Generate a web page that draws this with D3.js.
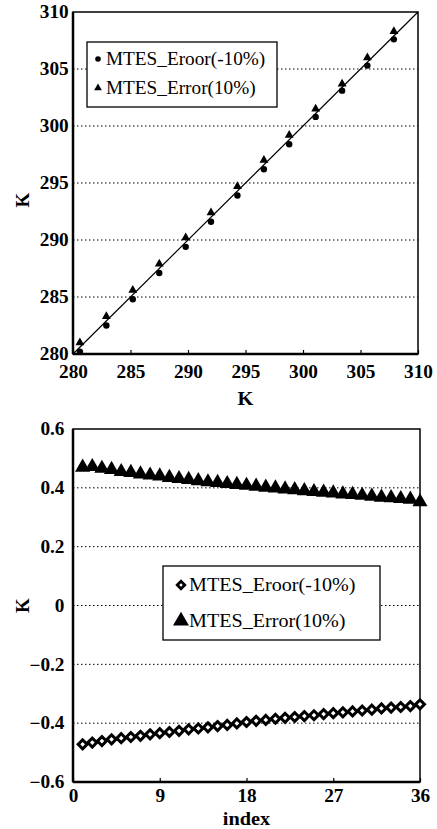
<!DOCTYPE html>
<html>
<head>
<meta charset="utf-8">
<script src="https://cdn.jsdelivr.net/npm/d3@7"></script>
<style>
  body { margin: 0; background: #fff; }
  .grid line { stroke: #000; stroke-width: 1; stroke-dasharray: 1.5,2.5; }
</style>
</head>
<body>
<div id="chart"></div>
<script>
// top panel: retrieved vs true temperature (K)
const topTrue = [280.6, 282.9, 285.2, 287.5, 289.8, 292.0, 294.3, 296.6, 298.8, 301.1, 303.4, 305.6, 307.9];
const topEroorMinus = [280.2, 282.5, 284.8, 287.1, 289.4, 291.6, 293.9, 296.2, 298.4, 300.8, 303.1, 305.3, 307.6];
const topErrorPlus = [281.0, 283.3, 285.6, 287.9, 290.2, 292.4, 294.7, 297.0, 299.2, 301.5, 303.7, 306.0, 308.3];
const topTicks = [280, 285, 290, 295, 300, 305, 310];

// bottom panel: error by index
const indexVals = d3.range(1, 37);
const errMinus10 = [-0.472, -0.466, -0.461, -0.455, -0.451, -0.447, -0.443, -0.438, -0.434, -0.430,
  -0.426, -0.421, -0.418, -0.414, -0.410, -0.406, -0.401, -0.396, -0.392, -0.389,
  -0.385, -0.382, -0.379, -0.376, -0.373, -0.369, -0.366, -0.363, -0.360, -0.357,
  -0.354, -0.350, -0.347, -0.345, -0.342, -0.336];
const errPlus10 = [0.470, 0.472, 0.466, 0.462, 0.455, 0.452, 0.447, 0.443, 0.440, 0.435,
  0.431, 0.428, 0.424, 0.420, 0.418, 0.414, 0.411, 0.408, 0.405, 0.402,
  0.399, 0.396, 0.393, 0.390, 0.387, 0.385, 0.382, 0.379, 0.377, 0.374,
  0.371, 0.368, 0.366, 0.363, 0.361, 0.352];
const bottomXTicks = [0, 9, 18, 27, 36];
const bottomYTicks = [-0.6, -0.4, -0.2, 0, 0.2, 0.4, 0.6];

const legendNames = ["MTES_Eroor(-10%)", "MTES_Error(10%)"];

const FONT = "'Liberation Serif', 'Times New Roman', serif";

const svg = d3.select("#chart").append("svg")
    .attr("width", 437)
    .attr("height", 829)
    .attr("font-family", FONT);

// the scanned figure's type is a little wider than normal Times
function styleTicks(a) {
    a.select(".domain").remove();
    a.attr("font-family", FONT);
    a.selectAll("text")
        .attr("font-family", FONT)
        .attr("font-size", 18)
        .attr("font-weight", "bold")
        .attr("fill", "#000")
        .attr("transform", "scale(1.07,1)");
    a.selectAll("line").attr("stroke", "#000").attr("stroke-width", 1.2);
}

// ---------- top panel ----------
let x1 = d3.scaleLinear().domain([280, 310]).range([73, 418]);
let y1 = d3.scaleLinear().domain([280, 310]).range([354, 12]);

let g1 = svg.append("g");

g1.append("g").attr("class", "grid")
    .selectAll("line")
    .data(topTicks.filter(d => d > 280 && d < 310))
    .enter().append("line")
    .attr("x1", x1(280)).attr("x2", x1(310))
    .attr("y1", d => y1(d)).attr("y2", d => y1(d));

// 1:1 line
g1.append("line")
    .attr("x1", x1(280)).attr("y1", y1(280))
    .attr("x2", x1(310)).attr("y2", y1(310))
    .attr("stroke", "#000").attr("stroke-width", 1.2);

g1.append("g")
    .attr("transform", "translate(0," + y1(280) + ")")
    .call(d3.axisBottom(x1).tickValues(topTicks).tickSize(-4).tickPadding(11).tickFormat(d3.format("d")))
    .call(styleTicks);

g1.append("g")
    .attr("transform", "translate(" + x1(280) + ",0)")
    .call(d3.axisLeft(y1).tickValues(topTicks).tickSize(0).tickPadding(4).tickFormat(d3.format("d")))
    .call(styleTicks);

// frame
g1.append("rect")
    .attr("x", x1(280)).attr("y", y1(310))
    .attr("width", x1(310) - x1(280)).attr("height", y1(280) - y1(310))
    .attr("fill", "none").attr("stroke", "#000").attr("stroke-width", 1.5);
g1.append("line").attr("x1", x1(280)).attr("x2", x1(280)).attr("y1", y1(310)).attr("y2", y1(280))
    .attr("stroke", "#000").attr("stroke-width", 2.5);
g1.append("line").attr("x1", x1(280)).attr("x2", x1(310)).attr("y1", y1(280)).attr("y2", y1(280))
    .attr("stroke", "#000").attr("stroke-width", 2.5);

g1.selectAll(".dot-m")
    .data(topTrue.map((d, i) => [d, topEroorMinus[i]]))
    .enter().append("circle")
    .attr("class", "dot-m")
    .attr("cx", d => x1(d[0])).attr("cy", d => y1(d[1]))
    .attr("r", 3.2).attr("fill", "#000");

g1.selectAll(".tri-p")
    .data(topTrue.map((d, i) => [d, topErrorPlus[i]]))
    .enter().append("path")
    .attr("class", "tri-p")
    .attr("transform", d => "translate(" + x1(d[0]) + "," + y1(d[1]) + ")")
    .attr("d", d3.symbol().type(d3.symbolTriangle).size(34))
    .attr("fill", "#000");

g1.append("text")
    .attr("transform", "translate(" + ((x1(280) + x1(310)) / 2) + ",405) scale(1.07,1)")
    .attr("text-anchor", "middle").attr("font-size", 19).attr("font-weight", "bold")
    .text("K");
g1.append("text")
    .attr("transform", "translate(29," + 200 + ") rotate(-90)")
    .attr("text-anchor", "middle").attr("font-size", 19).attr("font-weight", "bold")
    .text("K");

// top legend
let leg1 = g1.append("g");
leg1.append("rect")
    .attr("x", 87).attr("y", 42).attr("width", 190).attr("height", 65)
    .attr("fill", "#fff").attr("stroke", "#000").attr("stroke-width", 1.3);
leg1.append("circle").attr("cx", 98).attr("cy", 59).attr("r", 2.8).attr("fill", "#000");
leg1.append("path").attr("transform", "translate(98,88)")
    .attr("d", d3.symbol().type(d3.symbolTriangle).size(26)).attr("fill", "#000");
leg1.selectAll(".leg-text")
    .data(legendNames)
    .enter().append("text")
    .attr("class", "leg-text")
    .attr("transform", (d, i) => "translate(106," + (65 + i * 29) + ") scale(1.07,1)")
    .attr("font-size", 18)
    .text(d => d);

// ---------- bottom panel ----------
let x2 = d3.scaleLinear().domain([0, 36]).range([73, 420]);
let y2 = d3.scaleLinear().domain([-0.6, 0.6]).range([782, 429]);

let g2 = svg.append("g");

g2.append("g").attr("class", "grid")
    .selectAll("line")
    .data(bottomYTicks.filter(d => d > -0.6 && d < 0.6))
    .enter().append("line")
    .attr("x1", x2(0)).attr("x2", x2(36))
    .attr("y1", d => y2(d)).attr("y2", d => y2(d));

g2.append("g")
    .attr("transform", "translate(0," + y2(-0.6) + ")")
    .call(d3.axisBottom(x2).tickValues(bottomXTicks).tickSize(-4).tickPadding(7).tickFormat(d3.format("d")))
    .call(styleTicks);

g2.append("g")
    .attr("transform", "translate(" + x2(0) + ",0)")
    .call(d3.axisLeft(y2).tickValues(bottomYTicks).tickSize(0).tickPadding(8)
        .tickFormat(d => d === 0 ? "0" : d3.format(".1f")(d)))
    .call(styleTicks);

g2.append("rect")
    .attr("x", x2(0)).attr("y", y2(0.6))
    .attr("width", x2(36) - x2(0)).attr("height", y2(-0.6) - y2(0.6))
    .attr("fill", "none").attr("stroke", "#000").attr("stroke-width", 1.5);
g2.append("line").attr("x1", x2(0)).attr("x2", x2(0)).attr("y1", y2(0.6)).attr("y2", y2(-0.6))
    .attr("stroke", "#000").attr("stroke-width", 2.5);
g2.append("line").attr("x1", x2(0)).attr("x2", x2(36)).attr("y1", y2(-0.6)).attr("y2", y2(-0.6))
    .attr("stroke", "#000").attr("stroke-width", 2.5);

// legend box (drawn before the markers, as in the figure)
let leg2 = g2.append("g");
leg2.append("rect")
    .attr("x", 163).attr("y", 566).attr("width", 217).attr("height", 74)
    .attr("fill", "#fff").attr("stroke", "#000").attr("stroke-width", 1.3);
leg2.append("path").attr("transform", "translate(181,585) rotate(45)")
    .attr("d", d3.symbol().type(d3.symbolSquare).size(28))
    .attr("fill", "#fff").attr("stroke", "#000").attr("stroke-width", 2.8);
leg2.append("path").attr("transform", "translate(181,621)")
    .attr("d", d3.symbol().type(d3.symbolTriangle).size(110)).attr("fill", "#000");
leg2.selectAll(".leg-text")
    .data(legendNames)
    .enter().append("text")
    .attr("class", "leg-text")
    .attr("transform", (d, i) => "translate(189," + (591 + i * 36) + ") scale(1.06,1)")
    .attr("font-size", 19)
    .text(d => d);

g2.selectAll(".tri")
    .data(indexVals.map((d, i) => [d, errPlus10[i]]))
    .enter().append("path")
    .attr("class", "tri")
    .attr("transform", d => "translate(" + x2(d[0]) + "," + y2(d[1]) + ")")
    .attr("d", d3.symbol().type(d3.symbolTriangle).size(100))
    .attr("fill", "#000");

g2.selectAll(".dia")
    .data(indexVals.map((d, i) => [d, errMinus10[i]]))
    .enter().append("path")
    .attr("class", "dia")
    .attr("transform", d => "translate(" + x2(d[0]) + "," + y2(d[1]) + ") rotate(45)")
    .attr("d", d3.symbol().type(d3.symbolSquare).size(40))
    .attr("fill", "#fff").attr("stroke", "#000").attr("stroke-width", 3);

g2.append("text")
    .attr("transform", "translate(" + ((x2(0) + x2(36)) / 2) + ",825) scale(1.07,1)")
    .attr("text-anchor", "middle").attr("font-size", 19).attr("font-weight", "bold")
    .text("index");
g2.append("text")
    .attr("transform", "translate(29," + y2(0) + ") rotate(-90)")
    .attr("text-anchor", "middle").attr("font-size", 19).attr("font-weight", "bold")
    .text("K");
</script>
</body>
</html>
